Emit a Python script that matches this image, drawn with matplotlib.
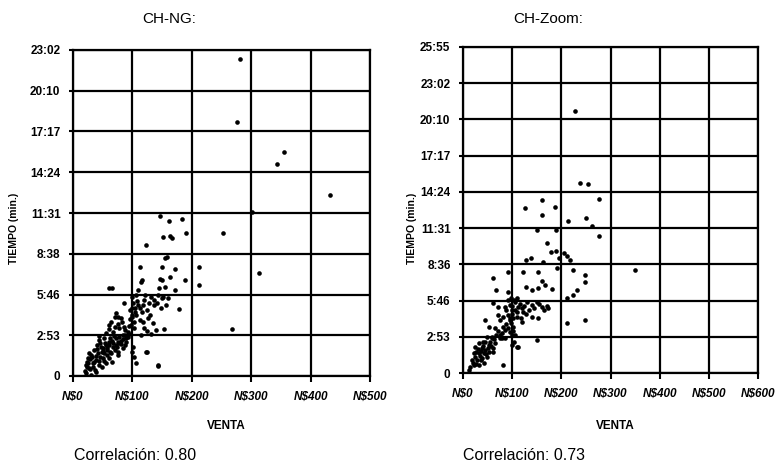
import numpy as np
import matplotlib.pyplot as plt

plt.rcParams['font.family'] = ['Liberation Sans', 'DejaVu Sans']

# CH-NG: venta (N$) / tiempo (segundos)
ng_venta = [281, 276, 355, 343, 433, 301,
            146, 162, 183, 151, 163, 190, 253, 166,
            123, 313, 212, 212, 268, 124, 143, 189, 178, 153,
            158, 113, 149, 172, 114, 149, 163, 65, 155,
            116, 146, 155, 144, 172, 110, 121, 132, 152, 160, 99,
            61, 86, 72, 75, 81, 61, 70, 78, 86, 92, 56, 67, 84,
            106, 109, 106, 112, 117, 126, 134, 120, 140, 103, 114,
            143, 148, 128, 120, 137, 100,
            53, 44, 61, 72, 78, 47, 58, 67, 84, 42, 53, 64, 75,
            39, 50, 61, 44, 56, 27, 25, 22, 27, 22, 30, 33, 39,
            103, 106, 123, 143,
            28, 24, 32, 36, 46, 50, 55, 62, 68, 70, 76, 80, 88, 52, 48, 58, 66, 74, 90, 95,
            100, 102, 104, 98, 101, 105, 96, 99, 101, 100,
            20, 23, 26, 29, 31, 35, 38, 41, 45, 48, 51, 54, 57, 60, 63, 66, 69, 72, 75, 78,
            81, 84, 87, 90, 93, 40, 44, 34, 37, 43,
            60, 64, 70, 76, 82, 88, 94, 96, 108, 112, 118, 124, 130, 136, 142, 150, 156, 118, 124, 132]
ng_tiempo = [1344, 1077, 950, 899, 768, 696,
             679, 657, 666, 590, 594, 606, 606, 587,
             556, 437, 462, 386, 199, 102, 42, 407, 284, 199,
             503, 464, 464, 452, 400, 407, 421, 372, 499,
             407, 411, 379, 372, 365, 365, 344, 336, 336, 331, 336,
             372, 308, 266, 251, 245, 216, 209, 202, 209, 188, 181, 188, 174,
             344, 301, 259, 237, 273, 245, 223, 202, 195, 202, 174,
             344, 287, 308, 322, 322, 287,
             160, 153, 146, 160, 139, 124, 117, 124, 117, 96, 96, 96, 103,
             68, 75, 75, 47, 54, 96, 75, 47, 33, 11, 4, 54, 18,
             82, 54, 103, 47,
             30, 60, 80, 110, 140, 105, 130, 160, 140, 110, 88, 150, 130, 62, 40, 88, 60, 125, 160, 180,
             250, 230, 270, 215, 310, 290, 240, 260, 123, 100,
             20, 40, 55, 70, 90, 60, 85, 115, 80, 100, 120, 140, 110, 130, 100, 150, 170, 130, 145, 165,
             135, 155, 175, 145, 165, 130, 170, 40, 25, 65,
             200, 230, 250, 220, 230, 195, 210, 280, 320, 290, 300, 280, 260, 300, 310, 330, 300, 230, 190, 180]

# CH-Zoom:
zoom_venta = [228, 238, 255, 277, 161, 126, 187, 161, 214, 250, 262, 277, 150, 189,
              170, 179, 189, 206, 211, 218, 196, 138, 128, 163, 350,
              92, 123, 153, 191, 223, 60, 160, 248, 248, 67, 92, 128, 140, 153, 167, 180, 231, 224, 211,
              60, 72, 85, 96, 106, 112, 130, 140, 150, 160, 173, 123, 140, 153, 72, 82, 92, 75, 96, 109, 119,
              211, 248, 45,
              52, 65, 82, 102, 96, 106, 75, 58, 85, 150, 112, 99, 82, 41, 48,
              25, 32, 39, 45, 52, 59, 22, 32, 42, 52, 18, 28, 39, 49, 22, 32, 42, 62, 66, 12, 110, 79,
              100, 100, 102, 98, 101, 99, 103, 100, 104, 97,
              15, 20, 24, 27, 30, 34, 37, 40, 44, 47, 50, 54, 57, 60, 64, 68, 72, 76, 80, 85,
              88, 92, 95, 36, 26,
              105, 110, 115, 120, 125, 135, 145, 155, 165, 170, 118, 128, 88, 92, 110]
zoom_tiempo = [1250, 905, 900, 829, 825, 786, 790, 754, 727, 741, 703, 654, 682, 682,
               619, 579, 582, 571, 558, 539, 547, 547, 539, 531, 491,
               483, 480, 483, 502, 491, 455, 439, 468, 436, 396, 388, 412, 396, 404, 420, 401, 396, 372, 356,
               333, 316, 316, 324, 340, 316, 340, 324, 340, 316, 309, 292, 269, 261, 277, 269, 277, 253, 253, 269, 245,
               237, 253, 253,
               221, 213, 221, 221, 197, 181, 181, 173, 166, 157, 125, 134, 38, 149, 173,
               125, 142, 118, 149, 134, 166, 94, 94, 94, 102, 62, 62, 70, 78, 38, 38, 46, 118, 142, 14, 125, 166,
               300, 280, 260, 240, 200, 180, 150, 320, 350, 360,
               30, 50, 75, 100, 115, 80, 105, 130, 110, 90, 120, 150, 130, 100, 160, 180, 200, 165, 190, 205,
               235, 215, 260, 60, 45,
               300, 290, 330, 310, 320, 300, 310, 330, 300, 320, 260, 280, 300, 350, 360]

ng_xlabels = ['N$0', 'N$100', 'N$200', 'N$300', 'N$400', 'N$500']
ng_ylabels = ['0', '2:53', '5:46', '8:38', '11:31', '14:24', '17:17', '20:10', '23:02']
zoom_xlabels = ['N$0', 'N$100', 'N$200', 'N$300', 'N$400', 'N$500', 'N$600']
zoom_ylabels = ['0', '2:53', '5:46', '8:36', '11:31', '14:24', '17:17', '20:10', '23:02', '25:55']

W, H = 782, 466
fig = plt.figure(figsize=(W / 100, H / 100), dpi=100)


def panel(rect, x, y, xlabels, ylabels, title, tx, corr, cx, vx, lx):
    ax = fig.add_axes(rect)
    xt = np.arange(len(xlabels)) * 100
    yt = np.arange(len(ylabels)) * 172.8   # 0.002 dia
    ax.set_xlim(0, xt[-1])
    ax.set_ylim(0, yt[-1])
    ax.set_xticks(xt)
    ax.set_yticks(yt)
    ax.set_xticklabels(xlabels, fontsize=8.5, fontweight='bold', fontstyle='italic')
    ax.set_yticklabels(ylabels, fontsize=8.5, fontweight='bold')
    ax.tick_params(axis='x', direction='out', length=4, width=1.5, pad=7)
    ax.tick_params(axis='y', direction='out', length=3, width=1.5, pad=6)
    ax.grid(True, color='black', linewidth=1.6)
    ax.set_axisbelow(True)
    for s in ax.spines.values():
        s.set_linewidth(1.6)
    ax.scatter(x, y, s=11, color='black', marker='o', linewidths=0, zorder=3)
    fig.text(tx / W, 1 - 19 / H, title, ha='center', va='center', fontsize=11)
    fig.text(vx / W, 1 - 426 / H, 'VENTA', ha='center', va='center', fontsize=8.5, fontweight='bold')
    fig.text(cx / W, 1 - 456 / H, corr, ha='left', va='center', fontsize=11.5)
    fig.text(lx / W, 1 - 228 / H, 'TIEMPO (min.)', ha='center', va='center', rotation=90,
             fontsize=7.5, fontweight='bold')
    return ax


panel([73 / W, 1 - 376 / H, 297 / W, 326 / H], ng_venta, ng_tiempo, ng_xlabels, ng_ylabels,
      'CH-NG:', 169, 'Correlación: 0.80', 74, 226, 14)
panel([463 / W, 1 - 373 / H, 295 / W, 326 / H], zoom_venta, zoom_tiempo, zoom_xlabels, zoom_ylabels,
      'CH-Zoom:', 548, 'Correlación: 0.73', 463, 615, 412)

fig.savefig('out.png', dpi=100)
